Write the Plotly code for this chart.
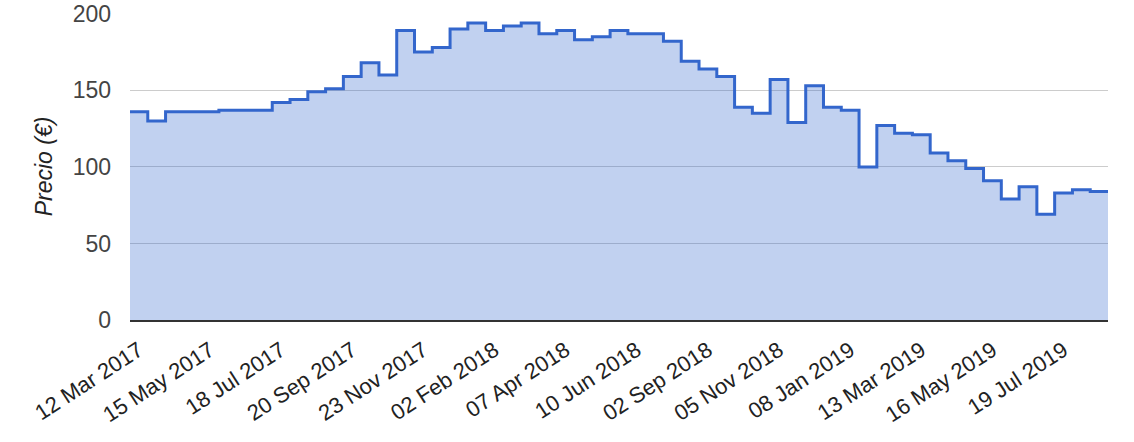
import plotly.graph_objects as go

dates = [
    "12 Mar 2017", "28 Mar 2017", "13 Apr 2017", "29 Apr 2017",
    "15 May 2017", "31 May 2017", "16 Jun 2017", "02 Jul 2017",
    "18 Jul 2017", "03 Aug 2017", "19 Aug 2017", "04 Sep 2017",
    "20 Sep 2017", "06 Oct 2017", "22 Oct 2017", "07 Nov 2017",
    "23 Nov 2017", "09 Dec 2017", "25 Dec 2017", "17 Jan 2018",
    "02 Feb 2018", "18 Feb 2018", "06 Mar 2018", "22 Mar 2018",
    "07 Apr 2018", "23 Apr 2018", "09 May 2018", "25 May 2018",
    "10 Jun 2018", "26 Jun 2018", "12 Jul 2018", "17 Aug 2018",
    "02 Sep 2018", "18 Sep 2018", "04 Oct 2018", "20 Oct 2018",
    "05 Nov 2018", "21 Nov 2018", "07 Dec 2018", "23 Dec 2018",
    "08 Jan 2019", "24 Jan 2019", "09 Feb 2019", "25 Feb 2019",
    "13 Mar 2019", "29 Mar 2019", "14 Apr 2019", "30 Apr 2019",
    "16 May 2019", "01 Jun 2019", "17 Jun 2019", "03 Jul 2019",
    "19 Jul 2019", "04 Aug 2019", "20 Aug 2019",
]

prices = [
    136, 130, 136, 136, 136, 137, 137, 137, 142, 144,
    149, 151, 159, 168, 160, 189, 175, 178, 190, 194,
    189, 192, 194, 187, 189, 183, 185, 189, 187, 187,
    182, 169, 164, 159, 139, 135, 157, 129, 153, 139,
    137, 100, 127, 122, 121, 109, 104, 99, 91, 79,
    87, 69, 83, 85, 84,
]

y_ticks = [0, 50, 100, 150, 200]
label_every = 4

n = len(prices)
# step edges: each category occupies [i, i+1]
x_edges = list(range(n + 1))
y_steps = prices + [prices[-1]]
hover = dates + [dates[-1]]

tick_idx = list(range(0, n, label_every))

font_family = "Liberation Sans, Arial, sans-serif"

fig = go.Figure()
fig.add_trace(go.Scatter(
    x=x_edges,
    y=y_steps,
    mode="lines",
    line=dict(shape="hv", color="#3366cc", width=3),
    fill="tozeroy",
    fillcolor="rgba(51,102,204,0.3)",
    customdata=hover,
    hovertemplate="%{customdata}<br>%{y} €<extra></extra>",
    showlegend=False,
))

fig.update_layout(
    width=1134,
    height=442,
    margin=dict(l=130, r=26, t=13, b=122),
    paper_bgcolor="white",
    plot_bgcolor="white",
    font=dict(family=font_family, color="#444"),
    xaxis=dict(
        range=[0, n],
        tickvals=[i + 0.5 for i in tick_idx],
        ticktext=[dates[i] for i in tick_idx],
        tickangle=-33,
        tickfont=dict(size=22, color="#222"),
        showgrid=False,
        zeroline=False,
        showline=True,
        linecolor="#333",
        linewidth=2,
        ticks="",
        ticklabelstandoff=7,
        automargin=False,
        fixedrange=True,
    ),
    yaxis=dict(
        range=[0, 200.5],
        tickvals=y_ticks,
        tickfont=dict(size=23, color="#444"),
        gridcolor="#cccccc",
        gridwidth=1,
        zeroline=False,
        showline=False,
        ticks="",
        ticklabelstandoff=18,
        ticklabeloverflow="allow",
        automargin=False,
        title=dict(text="Precio (€)", font=dict(size=23, color="#222", style="italic"), standoff=13),
        fixedrange=True,
    ),
)

fig.write_html("out.html")
